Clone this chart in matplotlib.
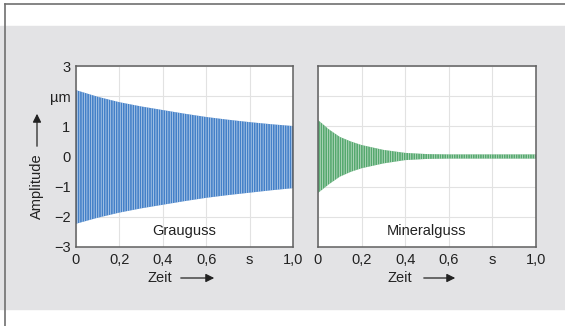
import matplotlib
matplotlib.use("Agg")
import matplotlib.pyplot as plt
import numpy as np

plt.rcParams['font.family'] = ['Liberation Sans', 'DejaVu Sans']
plt.rcParams['hatch.linewidth'] = 0.5

# envelope of the decaying vibration (µm over s)
t_grau = [0.0, 0.1, 0.2, 0.3, 0.4, 0.5, 0.6, 0.7, 0.8, 0.9, 1.0]
grau_top = [2.20, 1.98, 1.80, 1.66, 1.54, 1.42, 1.31, 1.22, 1.14, 1.07, 1.01]
grau_bot = [-2.23, -2.03, -1.86, -1.72, -1.60, -1.48, -1.37, -1.28, -1.20, -1.12, -1.05]

t_min = [0.0, 0.05, 0.1, 0.15, 0.2, 0.3, 0.4, 0.5, 0.6, 0.8, 1.0]
min_top = [1.21, 0.90, 0.65, 0.50, 0.38, 0.22, 0.12, 0.08, 0.07, 0.07, 0.07]
min_bot = [-1.21, -0.92, -0.67, -0.51, -0.39, -0.23, -0.12, -0.08, -0.07, -0.07, -0.07]

xticks = [0, 0.2, 0.4, 0.6, 0.8, 1.0]
xlabels = ['0', '0,2', '0,4', '0,6', 's', '1,0']
yticks = [-3, -2, -1, 0, 1, 2, 3]
ylabels = ['\u22123', '\u22122', '\u22121', '0', '1', '\u00b5m', '3']

W, H = 565, 326
F = plt.figure(figsize=(W / 100, H / 100), dpi=100)
F.patch.set_facecolor('white')

# grey band and frame lines
F.patches.append(plt.Rectangle((0, 1 - 309 / H), 1, (309 - 26) / H, transform=F.transFigure,
                               color='#e3e3e5', zorder=-5))
F.add_artist(plt.Line2D([5 / W, 5 / W], [0, 1 - 4 / H], transform=F.transFigure,
                        color='#707070', lw=1.2, zorder=-4))
F.add_artist(plt.Line2D([5 / W, 1], [1 - 4 / H, 1 - 4 / H], transform=F.transFigure,
                        color='#707070', lw=1.2, zorder=-4))

def make_ax(x0, x1):
    return F.add_axes([x0 / W, 1 - 247 / H, (x1 - x0) / W, (247 - 66) / H])

ax1 = make_ax(76, 293)
ax2 = make_ax(318, 536)

panels = [(ax1, t_grau, grau_top, grau_bot, '#4380c8', 'Grauguss'),
          (ax2, t_min, min_top, min_bot, '#55a86e', 'Mineralguss')]

for ax, t, top, bot, col, name in panels:
    ax.set_facecolor('white')
    ax.fill_between(t, bot, top, facecolor=col, edgecolor=(1, 1, 1, 0.7),
                    hatch='|||||||', lw=0, zorder=2)
    ax.set_xlim(0, 1)
    ax.set_ylim(-3, 3)
    ax.set_xticks(xticks)
    ax.set_xticklabels(xlabels)
    ax.set_yticks(yticks)
    ax.grid(True, color='#e2e2e2', lw=0.8, zorder=0)
    ax.set_axisbelow(True)
    ax.tick_params(length=0, labelsize=10.5, colors='#222222', pad=4)
    for s in ax.spines.values():
        s.set_color('#606060')
        s.set_linewidth(1.1)
    ax.text(0.5, 0.088, name, transform=ax.transAxes, ha='center', va='center',
            fontsize=10.5, color='#222222', zorder=5)

ax1.set_yticklabels(ylabels)
ax2.set_yticklabels([])

# axis captions with arrows
F.text(37 / W, 1 - 186 / H, 'Amplitude', rotation=90, ha='center', va='center',
       fontsize=10.5, color='#222222')
F.add_artist(matplotlib.patches.FancyArrowPatch((37 / W, 1 - 149 / H), (37 / W, 1 - 111 / H),
             transform=F.transFigure, arrowstyle='-|>,head_length=5,head_width=2.5',
             color='#222222', lw=0.9, mutation_scale=1))
for cx, a0, a1 in [(160, 178, 217), (400, 421, 458)]:
    F.text(cx / W, 1 - 278 / H, 'Zeit', ha='center', va='center', fontsize=10.5,
           color='#222222')
    F.add_artist(matplotlib.patches.FancyArrowPatch((a0 / W, 1 - 278 / H), (a1 / W, 1 - 278 / H),
                 transform=F.transFigure, arrowstyle='-|>,head_length=5,head_width=2.5',
                 color='#222222', lw=0.9, mutation_scale=1))

F.savefig("out.png", dpi=100)
